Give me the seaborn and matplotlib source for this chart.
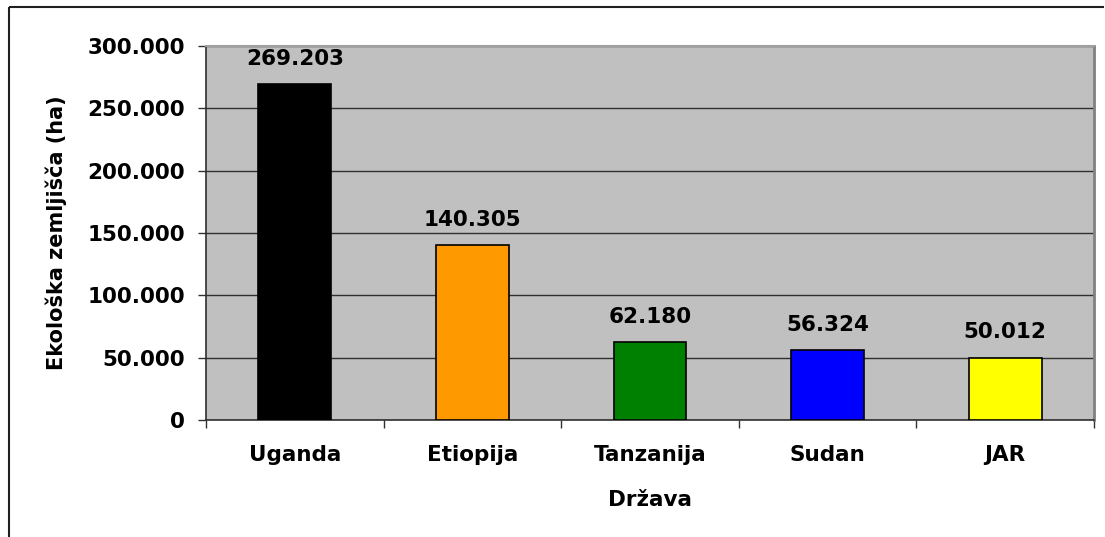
import matplotlib
matplotlib.use("Agg")
import matplotlib.pyplot as plt
import seaborn as sns
import pandas as pd
from matplotlib.ticker import FuncFormatter, FixedLocator
from matplotlib.lines import Line2D

countries = ["Uganda", "Etiopija", "Tanzanija", "Sudan", "JAR"]
values = [269203, 140305, 62180, 56324, 50012]
colors = ["#000000", "#FF9900", "#008000", "#0000FF", "#FFFF00"]
y_ticks = [0, 50000, 100000, 150000, 200000, 250000, 300000]

sns.set_style("white")
plt.rcParams["font.family"] = ["DejaVu Sans"]
plt.rcParams["text.color"] = "black"
plt.rcParams["xtick.color"] = "black"
plt.rcParams["ytick.color"] = "black"
plt.rcParams["axes.labelcolor"] = "black"

df = pd.DataFrame({"Država": countries, "val": values})

fig = plt.figure(figsize=(11.05, 5.37), dpi=100)
ax = fig.add_axes([206/1105, 1-420/537, (1094-206)/1105, (420-46)/537])
ax.set_facecolor("#C0C0C0")

sns.barplot(data=df, x="Država", y="val", hue="Država", palette=colors,
            legend=False, width=0.41, edgecolor="black", linewidth=1.2,
            saturation=1, ax=ax, zorder=3)

def fmt(v, pos=None):
    return f"{int(round(v)):,}".replace(",", ".")

for cont in ax.containers:
    ax.bar_label(cont, labels=[fmt(b.get_height()) for b in cont], padding=11,
                 fontsize=15.5, fontweight="bold", color="black")

ax.set_ylim(0, 300000)
ax.set_xlim(-0.5, 4.5)
ax.yaxis.set_major_locator(FixedLocator(y_ticks))
ax.yaxis.set_major_formatter(FuncFormatter(fmt))
ax.grid(axis="y", color="#303030", linewidth=1.0, zorder=1)
ax.set_axisbelow(True)

ax.tick_params(axis="y", left=True, length=6, width=1, color="#303030",
               labelsize=15.5, pad=9)
for lab in ax.get_yticklabels():
    lab.set_fontweight("bold")
ax.xaxis.set_minor_locator(FixedLocator([-0.5, 0.5, 1.5, 2.5, 3.5, 4.5]))
ax.tick_params(axis="x", which="major", length=0, labelsize=15.5, pad=18)
ax.tick_params(axis="x", which="minor", bottom=True, length=6, width=1, color="#303030")
for lab in ax.get_xticklabels():
    lab.set_fontweight("bold")

ax.set_xlabel("Država", fontsize=15.5, fontweight="bold", labelpad=18)
ax.set_ylabel("Ekološka zemljišča (ha)", fontsize=15, fontweight="bold", labelpad=15)

for s in ["left", "bottom"]:
    ax.spines[s].set_color("#303030")
    ax.spines[s].set_linewidth(1.2)
ax.spines["top"].set_color("#A0A0A0")
ax.spines["top"].set_linewidth(1.5)
ax.spines["right"].set_color("#808080")
ax.spines["right"].set_linewidth(2)

x0 = 8.5 / 1105
y0 = 1 - 6.5 / 537
fig.lines.append(Line2D([x0, 1104 / 1105], [y0, y0], transform=fig.transFigure,
                        color="#202020", linewidth=1.5, solid_capstyle="butt"))
fig.lines.append(Line2D([x0, x0], [0.0, y0], transform=fig.transFigure,
                        color="#202020", linewidth=1.5, solid_capstyle="butt"))

fig.savefig("out.png", dpi=100)
